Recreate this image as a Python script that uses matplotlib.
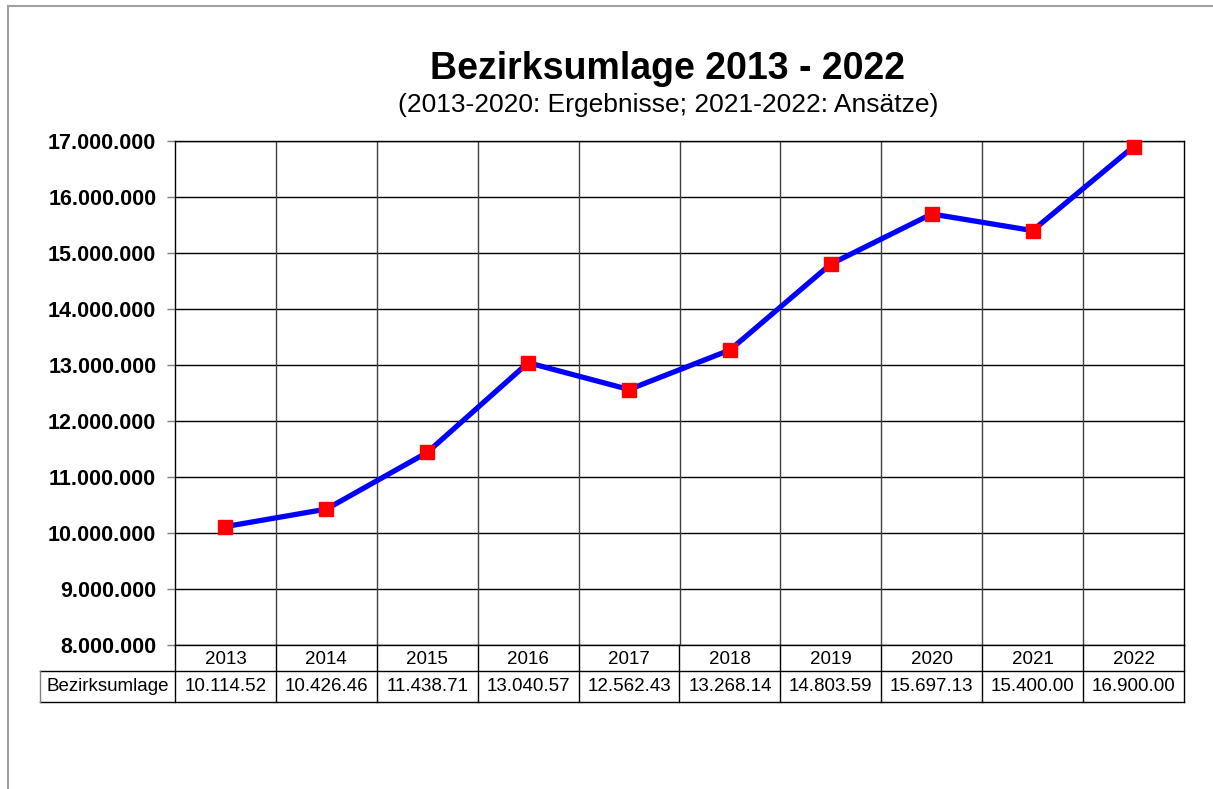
import numpy as np
import matplotlib.pyplot as plt

plt.rcParams['font.family'] = ['Liberation Sans', 'DejaVu Sans']

years = ['2013', '2014', '2015', '2016', '2017', '2018', '2019', '2020', '2021', '2022']
umlage = [10114520, 10426460, 11438710, 13040570, 12562430,
          13268140, 14803590, 15697130, 15400000, 16900000]
table_labels = ['10.114.52', '10.426.46', '11.438.71', '13.040.57', '12.562.43',
                '13.268.14', '14.803.59', '15.697.13', '15.400.00', '16.900.00']
row_label = 'Bezirksumlage'
yticks = np.arange(8000000, 17000001, 1000000)

W, H = 1213, 789
fig = plt.figure(figsize=(W / 100, H / 100), dpi=100)

def px(x0, y0, x1, y1):
    # pixel box (top-left origin) -> figure fraction rect
    return [x0 / W, 1 - y1 / H, (x1 - x0) / W, (y1 - y0) / H]

# outer frame (left and top grey lines)
fig.add_artist(plt.Line2D([8 / W, 8 / W], [0, 1 - 6 / H], color='#a0a0a0', lw=1.5))
fig.add_artist(plt.Line2D([8 / W, 1], [1 - 6 / H, 1 - 6 / H], color='#a0a0a0', lw=1.5))

ax = fig.add_axes(px(175, 141, 1184, 645))
n = len(years)
xs = np.arange(n) + 0.5
ax.set_xlim(0, n)
ax.set_ylim(8000000, 17000000)
ax.set_yticks(yticks)
ax.set_yticklabels([f'{v:,}'.replace(',', '.') for v in yticks],
                   fontsize=15.5, fontweight='bold')
ax.tick_params(axis='y', length=6, width=1, color='#808080', pad=7.5)
ax.set_xticks([])
for v in yticks:
    ax.axhline(v, color='black', lw=1, zorder=1)
for i in range(1, n):
    ax.axvline(i, color='#404040', lw=1, zorder=1)
for s in ax.spines.values():
    s.set_color('black')
    s.set_linewidth(1)

ax.plot(xs, umlage, color='#0000ff', lw=3.8, zorder=3, clip_on=False)
ax.plot(xs, umlage, linestyle='none', marker='s', markersize=10.5,
        markerfacecolor='#ff0000', markeredgecolor='#ff0000', zorder=4, clip_on=False)

# data table below the axes
tab = fig.add_axes(px(40, 645, 1184, 702))
left = -135 / 100.9
tab.set_xlim(left, n)
tab.set_ylim(0, 57)
tab.axis('off')
for i in range(n):
    tab.text(i + 0.5, 43, years[i], ha='center', va='center', fontsize=13.5)
    tab.text(i + 0.5, 15.5, table_labels[i], ha='center', va='center', fontsize=13.5)
tab.text((left) / 2, 15.5, row_label, ha='center', va='center', fontsize=13.5)
kw = dict(color='black', lw=1, clip_on=False)
tab.plot([left, n], [0, 0], **kw)
tab.plot([left, n], [31, 31], **kw)
tab.plot([left, left], [0, 31], color='#808080', lw=1, clip_on=False)
for i in range(0, n + 1):
    tab.plot([i, i], [0, 57], **kw)

fig.text(668 / W, 1 - 69 / H, 'Bezirksumlage 2013 - 2022', ha='center', va='center',
         fontsize=27, fontweight='bold')
fig.text(668 / W, 1 - 105 / H, '(2013-2020: Ergebnisse; 2021-2022: Ansätze)', ha='center',
         va='center', fontsize=19)

fig.savefig('out.png', dpi=100)
